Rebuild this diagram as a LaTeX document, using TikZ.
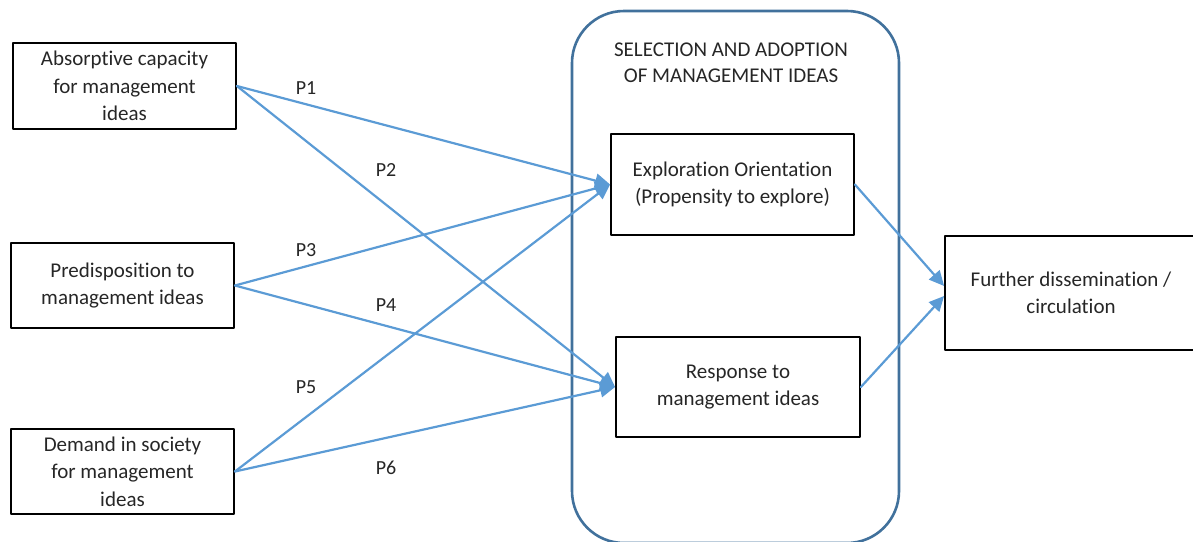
\documentclass[tikz,border=0pt]{standalone}
\usepackage{fontspec}
\setmainfont{Carlito}[Ligatures=NoCommon]
\usetikzlibrary{arrows.meta}

\definecolor{linkblue}{HTML}{5B9BD5}
\definecolor{frameblue}{HTML}{41719C}

\tikzset{
    box/.style={draw=black, line width=1.8pt, align=center, text=black!85,
        font=\fontsize{21}{27.5}\selectfont, inner sep=0pt},
    link/.style={draw=linkblue, line width=2.2pt,
        -{Triangle[length=15pt, width=14pt]}},
    plabel/.style={text=black!85, font=\fontsize{20}{24}\selectfont}
}

\begin{document}
\begin{tikzpicture}[line cap=round, line join=round, x=1pt, y=-1pt]
                \useasboundingbox (0, 0) rectangle (1193, 541);
                \clip (0, 0) rectangle (1193, 541);

                % Selection and adoption frame
                \draw[frameblue, line width=2.6pt, rounded corners=52pt] (572, 11) rectangle (899, 543);
                \node[align=center, text=black!85, font=\fontsize{21}{25.5}\selectfont] (sel) at (731, 63)
                    {SELECTION AND ADOPTION\\OF MANAGEMENT IDEAS};

                % Antecedents
                \node[box, minimum width=223pt, minimum height=86pt] (abs) at (124.5, 86)
                    {Absorptive capacity\\for management\\ideas};
                \node[box, minimum width=223pt, minimum height=85pt] (pre) at (122.5, 285.5)
                    {Predisposition to\\management ideas};
                \node[box, minimum width=223pt, minimum height=85pt] (dem) at (122.5, 471.5)
                    {Demand in society\\for management\\ideas};

                % Selection and adoption
                \node[box, minimum width=243pt, minimum height=101pt] (expl) at (732.5, 184.5)
                    {Exploration Orientation\\(Propensity to explore)};
                \node[box, minimum width=244pt, minimum height=100pt] (resp) at (738, 387)
                    {Response to\\management ideas};

                % Outcome
                \node[box, minimum width=252pt, minimum height=114pt] (diss) at (1071, 293)
                    {Further dissemination /\\circulation};

                % Propositions
                \draw[link] (abs.east) -- (expl.west);
                \draw[link] (abs.east) -- (resp.west);
                \draw[link] (pre.east) -- (expl.west);
                \draw[link] (pre.east) -- (resp.west);
                \draw[link] (dem.east) -- (expl.west);
                \draw[link] (dem.east) -- (resp.west);
                \draw[link] (expl.east) -- ([yshift=7pt]diss.west);
                \draw[link] (resp.east) -- ([yshift=-3pt]diss.west);

                \node[plabel] (p1) at (306, 88) {P1};
                \node[plabel] (p2) at (386, 170) {P2};
                \node[plabel] (p3) at (306, 250) {P3};
                \node[plabel] (p4) at (386, 305) {P4};
                \node[plabel] (p5) at (306, 387) {P5};
                \node[plabel] (p6) at (386, 468) {P6};
            \end{tikzpicture}
\end{document}
